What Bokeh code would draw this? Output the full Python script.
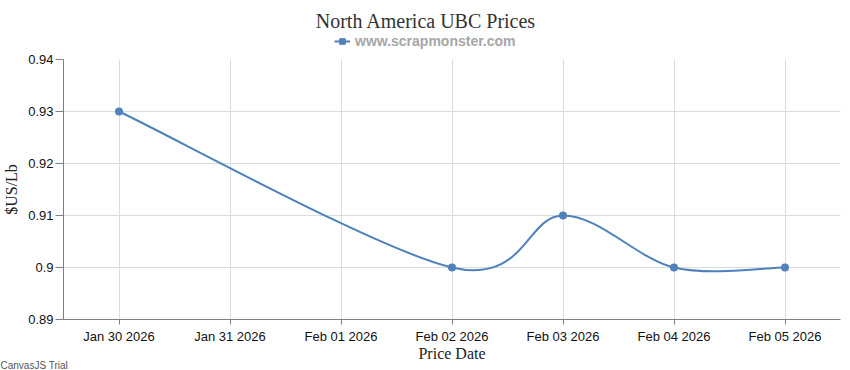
import pandas as pd
from bokeh.plotting import figure
from bokeh.layouts import column
from bokeh.models import (Range1d, FixedTicker, DatetimeTickFormatter, Title,
                          Label, Legend, LegendItem, ColumnDataSource)
from bokeh.embed import file_html
from bokeh.resources import INLINE

# ---------------- data ----------------
dates = ["2026-01-30", "2026-02-02", "2026-02-03", "2026-02-04", "2026-02-05"]
prices = [0.93, 0.90, 0.91, 0.90, 0.90]

tick_dates = ["2026-01-30", "2026-01-31", "2026-02-01", "2026-02-02",
              "2026-02-03", "2026-02-04", "2026-02-05"]
tick_labels = ["Jan 30 2026", "Jan 31 2026", "Feb 01 2026", "Feb 02 2026",
               "Feb 03 2026", "Feb 04 2026", "Feb 05 2026"]
y_ticks = [0.89, 0.90, 0.91, 0.92, 0.93, 0.94]
y_tick_labels = ["0.89", "0.9", "0.91", "0.92", "0.93", "0.94"]

title_text = "North America UBC Prices"
legend_text = "www.scrapmonster.com"
x_title = "Price Date"
y_title = "$US/Lb"
trial_text = "CanvasJS Trial"

# ---------------- helpers ----------------
def to_ms(d):
    return int((pd.Timestamp(d) - pd.Timestamp(0)) // pd.Timedelta("1ms"))

xs = [to_ms(d) for d in dates]
tick_ms = [to_ms(d) for d in tick_dates]
half_day = 12 * 3600 * 1000

# CanvasJS-style spline (cardinal, tension 2) -> cubic bezier control points
def bezier_segments(px, py, tension=2.0):
    n = len(px)
    seg = dict(x0=[], y0=[], x1=[], y1=[], cx0=[], cy0=[], cx1=[], cy1=[])
    for i in range(1, n):
        k = i - 1
        i1 = 0 if k == 0 else k - 1
        i2 = k if k == n - 1 else k + 1
        c1x = px[k] + (px[i2] - px[i1]) / tension / 3
        c1y = py[k] + (py[i2] - py[i1]) / tension / 3
        k = i
        i1 = 0 if k == 0 else k - 1
        i2 = k if k == n - 1 else k + 1
        c2x = px[k] - (px[i2] - px[i1]) / tension / 3
        c2y = py[k] - (py[i2] - py[i1]) / tension / 3
        seg["x0"].append(px[i - 1]); seg["y0"].append(py[i - 1])
        seg["x1"].append(px[i]); seg["y1"].append(py[i])
        seg["cx0"].append(c1x); seg["cy0"].append(c1y)
        seg["cx1"].append(c2x); seg["cy1"].append(c2y)
    return seg

COLOR = "#4F81BC"
SANS = "Liberation Sans"
SERIF = "Liberation Serif"

# ---------------- header: title + legend ----------------
# (its frame is aligned by the column layout with the main frame: x 61..840)
h = figure(width=850, height=53, output_backend="svg", toolbar_location=None,
           min_border=0, x_axis_location=None, y_axis_location=None,
           x_range=Range1d(0, 1), y_range=Range1d(0, 1))
h.outline_line_color = None
h.grid.visible = False
h.add_layout(Label(x=362.5, y=33, x_units="screen", y_units="screen",
                   text=title_text, text_font=SERIF, text_font_size="20px",
                   text_color="#333333", text_align="center",
                   text_baseline="alphabetic"))
# legend proxies: same series, lying far outside the header's 0..1 ranges
lr = h.line(xs, prices, line_color=COLOR, line_width=2)
sr = h.scatter(xs, prices, marker="square", size=7, fill_color=COLOR,
               line_color=COLOR)
legend = Legend(items=[LegendItem(label=legend_text, renderers=[lr, sr])],
                location=(271, 4), orientation="horizontal",
                border_line_color=None, background_fill_alpha=0,
                padding=0, margin=0, glyph_width=16, glyph_height=14,
                label_standoff=5, label_text_font=SANS,
                label_text_font_size="14px", label_text_font_style="bold",
                label_text_color="#a6a6a6", label_height=14)
h.add_layout(legend, "center")

# ---------------- main chart ----------------
p = figure(width=850, height=317, x_axis_type="datetime",
           x_range=Range1d(xs[0] - half_day, xs[-1] + half_day),
           y_range=Range1d(y_ticks[0], y_ticks[-1]),
           output_backend="svg", toolbar_location=None,
           min_border_left=61, min_border_right=10, min_border_top=6,
           min_border_bottom=51)
p.outline_line_color = None

seg = ColumnDataSource(bezier_segments(xs, prices))
p.bezier(x0="x0", y0="y0", x1="x1", y1="y1", cx0="cx0", cy0="cy0",
         cx1="cx1", cy1="cy1", source=seg, line_color=COLOR, line_width=2)
p.scatter(xs, prices, size=8, marker="circle", fill_color=COLOR,
          line_color=COLOR, line_width=0)

p.xaxis.ticker = FixedTicker(ticks=tick_ms)
p.xaxis.formatter = DatetimeTickFormatter(days="%b %d %Y")
p.xaxis.major_label_overrides = {t: l for t, l in zip(tick_ms, tick_labels)}
p.yaxis.ticker = FixedTicker(ticks=y_ticks)
p.yaxis.major_label_overrides = {t: l for t, l in zip(y_ticks, y_tick_labels)}

for ax in (p.xaxis[0], p.yaxis[0]):
    ax.axis_line_color = "#7f7f7f"
    ax.major_tick_line_color = "#7f7f7f"
    ax.minor_tick_line_color = None
    ax.major_tick_in = 0
    ax.major_label_text_font = SANS
    ax.major_label_text_font_size = "13px"
    ax.major_label_text_color = "#111111"
    ax.axis_label_text_font = SERIF
    ax.axis_label_text_font_size = "16px"
    ax.axis_label_text_font_style = "normal"
    ax.axis_label_text_color = "#222222"

p.xaxis.major_tick_out = 5
p.xaxis.major_label_standoff = 4
p.xaxis.axis_label = x_title
p.xaxis.axis_label_standoff = -2

p.yaxis.major_tick_out = 8
p.yaxis.major_label_standoff = 2
p.yaxis.axis_label = y_title
p.yaxis.axis_label_standoff = 5

p.xgrid.ticker = FixedTicker(ticks=tick_ms)
p.ygrid.ticker = FixedTicker(ticks=y_ticks)
p.grid.grid_line_color = "#dcdcdc"
p.grid.grid_line_width = 1

p.add_layout(Title(text=trial_text, align="left", vertical_align="middle",
                   offset=-63, standoff=-12,
                   text_font=SANS, text_font_size="10px",
                   text_font_style="normal", text_color="#555555"), "below")

layout = column(h, p, spacing=0)
open("out.html", "w").write(file_html(layout, INLINE))
